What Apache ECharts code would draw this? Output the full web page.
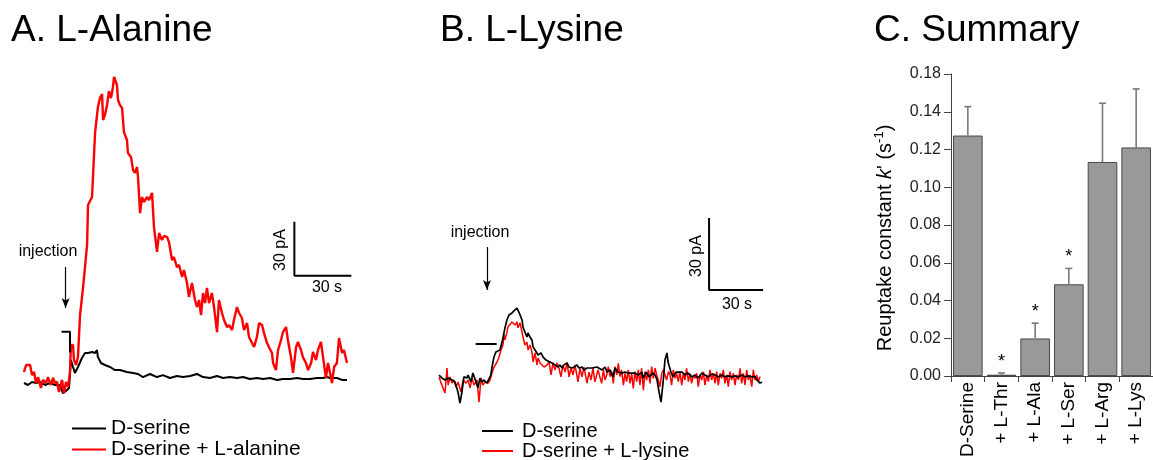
<!DOCTYPE html>
<html>
<head>
<meta charset="utf-8">
<script src="https://cdn.jsdelivr.net/npm/echarts@6/dist/echarts.min.js"></script>
<style>
  html, body { margin: 0; padding: 0; background: #fff; }
  #chart { width: 1153px; height: 460px; }
</style>
</head>
<body>
<div id="chart"></div>
<script>
// A. L-Alanine traces: [time (s), current (pA)]
const blackTraceA = [[0,0],[2.1,-1.1],[4.2,0.6],[6.3,0],[8.4,0.6],[11.1,-1.1],[13.7,0],[16.3,-1.1],[18.9,-1.1],[20.5,-5.6],[22.1,-4.4],[23.7,-2.8],[24.7,12.8],[25.8,8.9],[26.8,5.6],[28.4,8.9],[30.5,13.9],[32.1,16.7],[33.7,16.7],[35.8,17.2],[37.4,16.7],[38.4,18.3],[38.9,14.4],[40.5,11.1],[42.6,10],[45.3,8.9],[47.9,7.2],[50.5,7.2],[54.2,6.1],[57.4,5.6],[60,5],[62.6,3.3],[66.3,5],[70,3.3],[73.2,4.4],[76.8,2.8],[80.5,3.9],[83.7,3.3],[87.4,3.9],[91.1,5],[94.2,3.3],[97.9,2.8],[101.6,3.9],[104.7,2.8],[108.4,3.3],[112.1,2.8],[115.3,3.3],[118.9,2.2],[122.6,2.8],[125.8,2.2],[129.5,2.8],[133.2,1.7],[136.3,2.2],[140,2.2],[143.7,2.8],[146.8,2.2],[150.5,2.2],[154.2,2.8],[157.4,2.8],[159.5,3.3],[161.1,2.8],[164.7,2.8],[167.4,1.7],[170,1.7]];
const redTraceA = [[0,6.1],[1.1,10],[3.2,10],[4.2,4.4],[5.3,6.1],[6.3,0],[7.4,3.3],[8.9,-2.8],[10,1.7],[11.6,0],[12.6,3.3],[14.2,-1.1],[15.3,2.8],[16.3,0],[17.4,0.6],[18.4,-5],[20,1.7],[21.1,-5.6],[22.1,0.6],[23.2,-2.2],[24.2,6.1],[24.7,21.1],[25.8,21.1],[26.3,12.8],[27.4,10],[28.4,14.4],[29.5,37.8],[31.1,53.3],[33.2,76.7],[33.7,98.9],[35.8,103.3],[37.4,138.9],[38.4,138.9],[38.9,153.3],[40,158.3],[41.1,160.6],[41.6,146.1],[42.6,148.9],[43.7,154.4],[44.7,162.2],[45.8,158.3],[46.8,164.4],[47.4,170],[48.4,168.9],[48.9,165.6],[49.5,157.2],[50.5,154.4],[51.6,152.8],[52.6,139.4],[54.2,135],[54.7,127.8],[56.3,125.6],[57.4,118.3],[58.4,116.7],[59.5,120],[60,114.4],[61.1,94.4],[62.1,103.3],[63.2,100.6],[64.7,103.3],[65.8,101.7],[67.4,105.6],[68.4,86.7],[70,72.8],[71.1,83.3],[72.6,79.4],[73.7,81.7],[75.3,81.1],[76.3,78.3],[77.9,68.3],[78.9,70],[80.5,64.4],[81.6,65.6],[83.2,58.9],[84.2,62.8],[85.8,55.6],[86.8,47.8],[88.4,55.6],[90,46.1],[91.1,42.2],[92.1,46.1],[93.2,37.8],[94.2,50],[95.3,44.4],[96.3,52.8],[97.4,44.4],[98.9,50],[100,42.2],[101.6,28.3],[102.6,46.1],[104.2,38.9],[105.3,35],[106.8,31.1],[107.9,32.2],[109.5,29.4],[110.5,35],[112.1,42.2],[113.2,38.9],[114.7,36.1],[115.8,29.4],[117.4,33.3],[118.4,25.6],[120,22.2],[121.1,20],[122.6,25.6],[123.7,33.3],[125.3,32.2],[126.3,27.8],[127.9,22.2],[128.9,20],[130.5,16.7],[131.1,11.1],[132.6,7.2],[133.7,18.3],[135.3,23.9],[136.3,28.3],[137.9,31.1],[138.9,23.9],[140.5,14.4],[141.6,5.6],[143.2,20],[144.2,22.8],[145.8,18.3],[146.8,14.4],[148.4,11.1],[149.5,7.2],[151.1,11.1],[152.1,17.2],[153.7,12.8],[154.7,18.3],[156.3,22.8],[157.4,14.4],[158.9,2.8],[160,11.1],[161.1,5.6],[162.1,0],[163.2,8.9],[164.7,11.1],[165.8,25],[167.4,16.7],[168.4,18.3],[170,11.1]];
const injectionBarA = [[19.8,28.5],[24.2,28.5],[24.2,17]];
const scaleBarA = [[142.3,89.6],[142.3,59.6],[172.3,59.6]];
const arrowA = [[21.9,64.4],[21.9,41.7]];

// B. L-Lysine traces
const blackTraceB = [[0.6,2.1],[2.2,0.8],[3.9,0],[5.6,0.8],[7.8,0],[9.4,-0.8],[11.1,-5],[12.2,-9.6],[13.3,-5],[14.4,1.3],[16.1,0.8],[16.7,2.1],[18.3,-0.8],[19.4,2.9],[21.1,-0.8],[22.2,-3.3],[23.3,0.8],[24.4,-0.8],[25.6,0],[27.2,-1.3],[28.3,-0.8],[29.4,2.1],[30,5.4],[31.1,9.6],[32.2,11.7],[33.3,11.3],[34.4,12.5],[35.6,15.8],[36.1,17.5],[37.2,21.7],[38.3,25],[39.4,27.1],[41.1,27.9],[42.2,28.8],[43.9,30],[44.4,29.2],[45.6,27.1],[46.7,25],[47.2,22.1],[48.3,20],[49.4,17.9],[50,19.6],[51.1,17.9],[52.2,16.7],[52.8,13.8],[53.9,12.5],[55.6,10.4],[57.2,11.3],[58.3,9.6],[60,8.3],[61.1,7.5],[63.3,7.1],[65,6.3],[66.7,5.4],[67.8,6.3],[68.9,5],[70,6.3],[71.7,7.1],[72.8,5.4],[74.4,5],[75.6,5.4],[77.2,6.3],[78.3,5],[80,5.4],[81.1,4.2],[82.8,5],[83.9,5.4],[85.6,5],[86.7,4.2],[88.3,5.4],[89.4,5],[91.1,4.2],[92.8,5.4],[93.9,3.3],[95.6,4.2],[97.2,1.3],[98.3,5],[100,3.3],[102.2,2.9],[103.9,3.3],[105.6,2.9],[107.8,2.9],[109.4,2.9],[111.1,2.1],[113.3,3.3],[113.9,0.8],[115.6,3.3],[117.2,1.3],[119.4,2.9],[120.6,2.1],[121.7,0],[122.8,-5],[123.9,-9.2],[125,-1.3],[126.1,8.3],[127.2,11.3],[127.8,7.5],[129.4,3.3],[130.6,1.3],[132.2,3.3],[133.3,2.9],[135.6,3.3],[137.2,2.1],[138.9,2.9],[141.1,1.3],[142.8,2.1],[144.4,0.8],[146.7,2.9],[148.3,2.1],[150,1.3],[152.2,2.5],[153.9,2.1],[155.6,1.3],[157.8,2.1],[159.4,1.3],[161.1,1.7],[163.3,1.3],[165,1.7],[166.7,1.3],[168.9,2.1],[170.6,1.3],[172.2,1.7],[174.4,1.3],[176.1,1.3],[177.2,0],[178.9,-1.3],[180,-0.8]];
const redTraceB = [[0.6,1.3],[1.7,-1.3],[2.8,-0.8],[3.9,-5.4],[5,5],[5.6,-2.1],[6.7,1.3],[7.8,-1.3],[8.9,0],[10,-2.9],[11.1,-0.8],[12.8,-5],[13.9,0],[15.6,-1.3],[16.7,0],[17.8,-3.3],[18.9,0.8],[20,-2.1],[21.7,0],[22.8,-9.2],[23.9,0.8],[25,-2.1],[26.1,-0.8],[27.8,-1.3],[28.9,0],[30,2.9],[31.1,5.4],[32.8,7.5],[33.9,9.6],[35,12.5],[36.1,14.6],[36.7,18.8],[37.2,16.7],[38.3,20],[38.9,22.1],[40,21.7],[41.1,24.2],[41.7,25],[42.8,22.9],[43.9,24.2],[44.4,21.7],[45.6,23.8],[46.7,20],[47.2,17.9],[48.3,14.6],[49.4,15.8],[50,12.5],[51.1,14.6],[52.2,11.7],[52.8,7.5],[53.9,11.3],[55,6.3],[55.6,9.2],[56.7,7.1],[57.8,7.5],[58.9,5.4],[60.6,6.3],[61.7,7.5],[62.8,2.1],[63.9,7.1],[65,4.2],[66.1,7.1],[67.2,5],[68.3,1.3],[69.4,6.3],[70.6,3.3],[71.7,7.1],[72.8,1.3],[73.9,5],[75,2.1],[76.1,6.3],[77.8,-0.8],[78.9,5],[80,1.3],[81.1,5.4],[82.8,-1.3],[83.9,3.3],[85,0],[86.1,5],[87.2,-0.8],[88.9,4.2],[90.9,-1.4],[91.9,4.2],[92.8,0],[93.7,2.1],[94.6,5.6],[95.6,1.4],[96.5,3.5],[97.4,-1.4],[98.3,5.6],[99.3,2.1],[100.2,6.9],[101.1,1.4],[102,4.2],[103,-2.1],[103.9,2.8],[104.8,-0.7],[105.7,4.2],[106.7,-1.4],[107.6,2.8],[108.5,-3.5],[109.4,3.5],[110.4,-0.7],[111.3,4.2],[112.2,-2.1],[113.1,4.9],[114.1,-4.2],[115,3.5],[115.9,0],[116.9,4.2],[117.8,-1.4],[118.7,5.6],[119.6,0.7],[120.6,4.9],[121.5,2.1],[122.4,0],[123.3,-2.8],[124.3,2.8],[125.2,4.2],[126.1,2.1],[127,0],[128,3.5],[128.9,2.1],[129.8,-2.1],[130.7,4.2],[131.7,0.7],[132.6,2.8],[133.5,-0.7],[134.4,3.5],[135.4,-2.1],[136.3,2.8],[137.2,0],[138.1,4.9],[139.1,-0.7],[140,2.8],[140.9,-1.4],[141.9,2.1],[142.8,0.7],[143.7,2.8],[144.6,-2.8],[145.6,2.1],[146.5,0],[147.4,3.5],[148.3,-2.1],[149.3,2.1],[150.2,-0.7],[151.1,4.2],[152,0],[153,2.8],[153.9,-1.4],[154.8,3.5],[155.7,-2.1],[156.7,2.8],[157.6,0.7],[158.5,4.2],[159.4,-1.4],[160.4,2.1],[161.3,-2.8],[162.2,3.5],[163.1,0],[164.1,2.8],[165,-2.1],[165.9,2.1],[166.9,0],[167.8,4.9],[168.7,-1.4],[169.6,2.8],[170.6,-2.1],[171.5,4.2],[172.4,0],[173.3,2.1],[174.3,-2.8],[175.2,4.2],[176.1,0],[177,2.1],[178,-0.7],[178.9,1.4]];
const injectionBarB = [[20.9,15],[32.6,15]];
const scaleBarB = [[150.6,67.5],[150.6,37.5],[180.6,37.5]];
const arrowB = [[27.2,55.4],[27.2,37.5]];

// C. Summary
const categoriesC = ['D-Serine', '+ L-Thr', '+ L-Ala', '+ L-Ser', '+ L-Arg', '+ L-Lys'];
const valuesC = [0.1274, 0.0007, 0.0199, 0.0486, 0.1134, 0.1211];
const errTopC = [0.1427, 0.0016, 0.0280, 0.0570, 0.1445, 0.1521];
const starsC = ['', '*', '*', '*', '', ''];
const yTickLabelsC = ['0.00', '0.02', '0.04', '0.06', '0.08', '0.10', '0.12', '0.14', '0.18'];

const FONT = 'Liberation Sans, Arial, sans-serif';
const chart = echarts.init(document.getElementById('chart'));

function trace(name, data, color, width, ax) {
  return {
    name: name, type: 'line', data: data, xAxisIndex: ax, yAxisIndex: ax,
    symbol: 'none', showSymbol: false, silent: true,
    lineStyle: { color: color, width: width }, itemStyle: { color: color }
  };
}

function helper(data, ax, arrow) {
  return {
    type: 'line', data: data, xAxisIndex: ax, yAxisIndex: ax,
    symbol: 'none', silent: true,
    lineStyle: { color: '#000', width: 2 },
    markLine: arrow ? {
      silent: true, symbol: ['none', 'arrow'], symbolSize: [6, 10],
      label: { show: false },
      lineStyle: { color: '#000', width: 1.2, type: 'solid' },
      data: [[{ coord: arrow[0] }, { coord: arrow[1] }]]
    } : undefined
  };
}

function textAt(text, x, y, size, rotate) {
  return {
    type: 'text', x: x, y: y, rotation: rotate ? Math.PI / 2 : 0,
    style: { text: text, fontSize: size, fontFamily: FONT, fill: '#000', align: 'center', verticalAlign: 'middle' }
  };
}

chart.setOption({
  animation: false,
  title: [
    { text: 'A. L-Alanine', left: 11, top: 12 },
    { text: 'B. L-Lysine', left: 440, top: 12 },
    { text: 'C. Summary', left: 874, top: 12 }
  ].map(t => Object.assign(t, { padding: 0, textStyle: { fontSize: 37, fontWeight: 'normal', color: '#000', fontFamily: FONT } })),
  legend: [
    {
      data: ['D-serine', 'D-serine + L-alanine'], orient: 'vertical', left: 72, top: 418, height: 80,
      icon: 'rect', itemWidth: 34, itemHeight: 2, itemGap: 0, padding: 0, selectedMode: false,
      textStyle: { fontSize: 21, lineHeight: 20, color: '#000', fontFamily: FONT }
    },
    {
      data: ['D-serine', 'D-serine + L-lysine'], orient: 'vertical', left: 482, top: 421, height: 80,
      icon: 'rect', itemWidth: 31, itemHeight: 2, itemGap: 0, padding: 0, selectedMode: false,
      textStyle: { fontSize: 20, lineHeight: 18, color: '#000', fontFamily: FONT, padding: [0, 0, 0, 4] }
    }
  ],
  grid: [
    { left: 24, top: 68, width: 332.5, height: 333 },
    { left: 438, top: 212, width: 327.6, height: 204 },
    { left: 951, top: 74, width: 209, height: 303 }
  ],
  xAxis: [
    { type: 'value', gridIndex: 0, min: 0, max: 175, show: false },
    { type: 'value', gridIndex: 1, min: 0, max: 182, show: false },
    {
      type: 'category', gridIndex: 2, data: categoriesC,
      axisLine: { lineStyle: { color: '#444', width: 1 } },
      axisTick: { show: true, interval: 0, length: 6, lineStyle: { color: '#444' } },
      axisLabel: { rotate: 90, interval: 0, margin: 6, fontSize: 19, color: '#000', fontFamily: FONT }
    }
  ],
  yAxis: [
    { type: 'value', gridIndex: 0, min: -10, max: 175, show: false },
    { type: 'value', gridIndex: 1, min: -15, max: 70, show: false },
    {
      type: 'value', gridIndex: 2, min: 0, max: 0.16, interval: 0.02,
      splitLine: { show: false },
      axisLine: { show: true, lineStyle: { color: '#444', width: 1 } },
      axisTick: { show: true, length: 7, lineStyle: { color: '#444' } },
      axisLabel: {
        margin: 10, fontSize: 16, color: '#222', fontFamily: FONT,
        formatter: (v, i) => yTickLabelsC[i]
      }
    }
  ],
  series: [
    trace('D-serine', blackTraceA, '#000', 2, 0),
    trace('D-serine + L-alanine', redTraceA, '#ff0000', 2.4, 0),
    helper(injectionBarA, 0, arrowA),
    helper(scaleBarA, 0, null),
    trace('D-serine + L-lysine', redTraceB, '#ff0000', 1.5, 1),
    trace('D-serine', blackTraceB, '#000', 1.7, 1),
    helper(injectionBarB, 1, arrowB),
    helper(scaleBarB, 1, null),
    {
      type: 'bar', xAxisIndex: 2, yAxisIndex: 2, data: valuesC, barCategoryGap: '12%', silent: true,
      itemStyle: { color: '#999999', borderColor: '#4a4a4a', borderWidth: 1 }
    },
    {
      type: 'custom', xAxisIndex: 2, yAxisIndex: 2, silent: true, z: 5,
      data: valuesC.map((v, i) => [i, v, errTopC[i]]),
      renderItem: function (params, api) {
        const base = api.coord([api.value(0), api.value(1)]);
        const top = api.coord([api.value(0), api.value(2)]);
        const st = { stroke: '#7a7a7a', lineWidth: 1.6 };
        const kids = [
          { type: 'line', shape: { x1: top[0], y1: base[1], x2: top[0], y2: top[1] }, style: st },
          { type: 'line', shape: { x1: top[0] - 3.5, y1: top[1], x2: top[0] + 3.5, y2: top[1] }, style: st }
        ];
        const star = starsC[params.dataIndex];
        if (star) {
          kids.push({
            type: 'text', x: top[0], y: top[1] - 11,
            style: { text: star, fontSize: 18, fontFamily: FONT, fill: '#000', align: 'center', verticalAlign: 'middle' }
          });
        }
        return { type: 'group', children: kids };
      }
    }
  ],
  graphic: [
    textAt('injection', 48, 252, 16),
    textAt('injection', 480, 233, 16),
    textAt('30 pA', 281, 250, 16, true),
    textAt('30 s', 327, 288, 16),
    textAt('30 pA', 697, 256, 16, true),
    textAt('30 s', 737, 305, 16),
    {
      type: 'text', x: 885, y: 238, rotation: Math.PI / 2,
      style: {
        text: '{n|Reuptake constant }{k|k}{n|\' (s}{s|-1}{n|)}',
        align: 'center', verticalAlign: 'middle',
        rich: {
          n: { fontSize: 20, fontFamily: FONT, fill: '#000', lineHeight: 24 },
          k: { fontSize: 20, fontFamily: FONT, fill: '#000', fontStyle: 'italic', lineHeight: 24 },
          s: { fontSize: 13, fontFamily: FONT, fill: '#000', verticalAlign: 'top', lineHeight: 14 }
        }
      }
    }
  ]
});
</script>
</body>
</html>
